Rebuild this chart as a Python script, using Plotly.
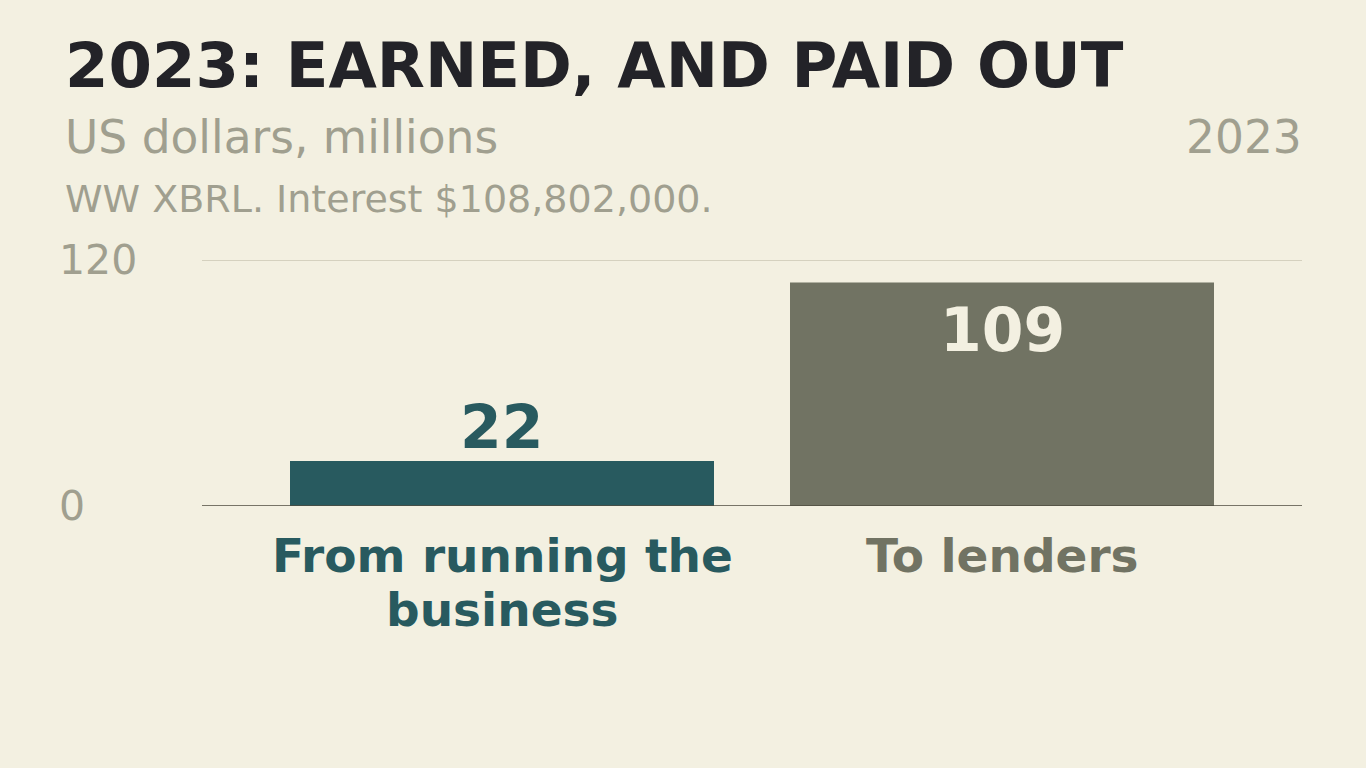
import plotly.graph_objects as go

# ---- data ----
categorias = ["From running the<br>business", "To lenders"]
valores = [22, 109]
etiquetas = ["22", "109"]
colores = ["#285A5F", "#717363"]
ticks_y = [0, 120]

titulo = "2023: EARNED, AND PAID OUT"
subtitulo = "US dollars, millions"
anio = "2023"
nota = "WW XBRL. Interest $108,802,000."

fondo = "#F3F0E1"
gris = "#A09F8F"
fuente = "DejaVu Sans"

# ---- grafico ----
fig = go.Figure(go.Bar(
    x=[0, 1], y=valores,
    width=0.848,
    marker=dict(color=colores, line=dict(width=0)),
    hoverinfo="skip",
))

# area del grafico: 202..1302 x 260..506 px
W, H = 1366, 768
ml, mr, mt, mb = 202, 64, 260, 262
ph = H - mt - mb
pw = W - ml - mr

def py(Y):
    return (H - mb - Y) / ph

def px_(X):
    return (X - ml) / pw

anots = []
anots.append(dict(text="<b>" + titulo + "</b>", x=px_(63), y=py(65), xref="paper", yref="paper",
                  xanchor="left", yanchor="middle", showarrow=False,
                  font=dict(size=62.5, color="#232328", family=fuente)))
anots.append(dict(text=subtitulo, x=px_(63), y=py(137), xref="paper", yref="paper",
                  xanchor="left", yanchor="middle", showarrow=False,
                  font=dict(size=45.5, color=gris, family=fuente)))
anots.append(dict(text=anio, x=px_(1304), y=py(137), xref="paper", yref="paper",
                  xanchor="right", yanchor="middle", showarrow=False,
                  font=dict(size=45.5, color=gris, family=fuente)))
anots.append(dict(text=nota, x=px_(63), y=py(199), xref="paper", yref="paper",
                  xanchor="left", yanchor="middle", showarrow=False,
                  font=dict(size=38, color=gris, family=fuente)))

# etiquetas del eje y, alineadas a la izquierda
for t in ticks_y:
    anots.append(dict(text=str(t), x=px_(57), y=t, xref="paper", yref="y",
                      xanchor="left", yanchor="middle", showarrow=False,
                      font=dict(size=41, color=gris, family=fuente)))

# valores de las barras
anots.append(dict(text="<b>" + etiquetas[0] + "</b>", x=0, y=valores[0], xref="x", yref="y",
                  xanchor="center", yanchor="bottom", showarrow=False, yshift=-3,
                  font=dict(size=60, color=colores[0], family=fuente)))
anots.append(dict(text="<b>" + etiquetas[1] + "</b>", x=1, y=valores[1], xref="x", yref="y",
                  xanchor="center", yanchor="top", showarrow=False, yshift=-10,
                  font=dict(size=60, color=fondo, family=fuente)))

# nombres de categorias, una linea por anotacion
for i, c in enumerate(categorias):
    for k, linea in enumerate(c.split("<br>")):
        anots.append(dict(text="<b>" + linea + "</b>", x=i, y=0, xref="x", yref="y",
                          xanchor="center", yanchor="top", showarrow=False,
                          yshift=-20 - 54 * k,
                          font=dict(size=47, color=colores[i], family=fuente)))

# linea de 120 y linea base
lineas = []
for t in ticks_y:
    lineas.append(dict(type="line", xref="paper", yref="y", x0=0, x1=1, y0=t, y1=t,
                       line=dict(color="#4E4B3E" if t == 0 else "#CBC7B3", width=1.5)))

fig.update_layout(
    width=W, height=H,
    paper_bgcolor=fondo, plot_bgcolor=fondo,
    margin=dict(l=ml, r=mr, t=mt, b=mb),
    showlegend=False,
    annotations=anots,
    xaxis=dict(range=[-0.6, 1.6], showticklabels=False, showgrid=False, zeroline=False),
    yaxis=dict(range=[0, 120], tickvals=ticks_y, showticklabels=False,
               showgrid=False, zeroline=False),
    shapes=lineas,
)

fig.write_html("out.html", config={"displayModeBar": False},
               post_script="document.body.style.margin='0';")
